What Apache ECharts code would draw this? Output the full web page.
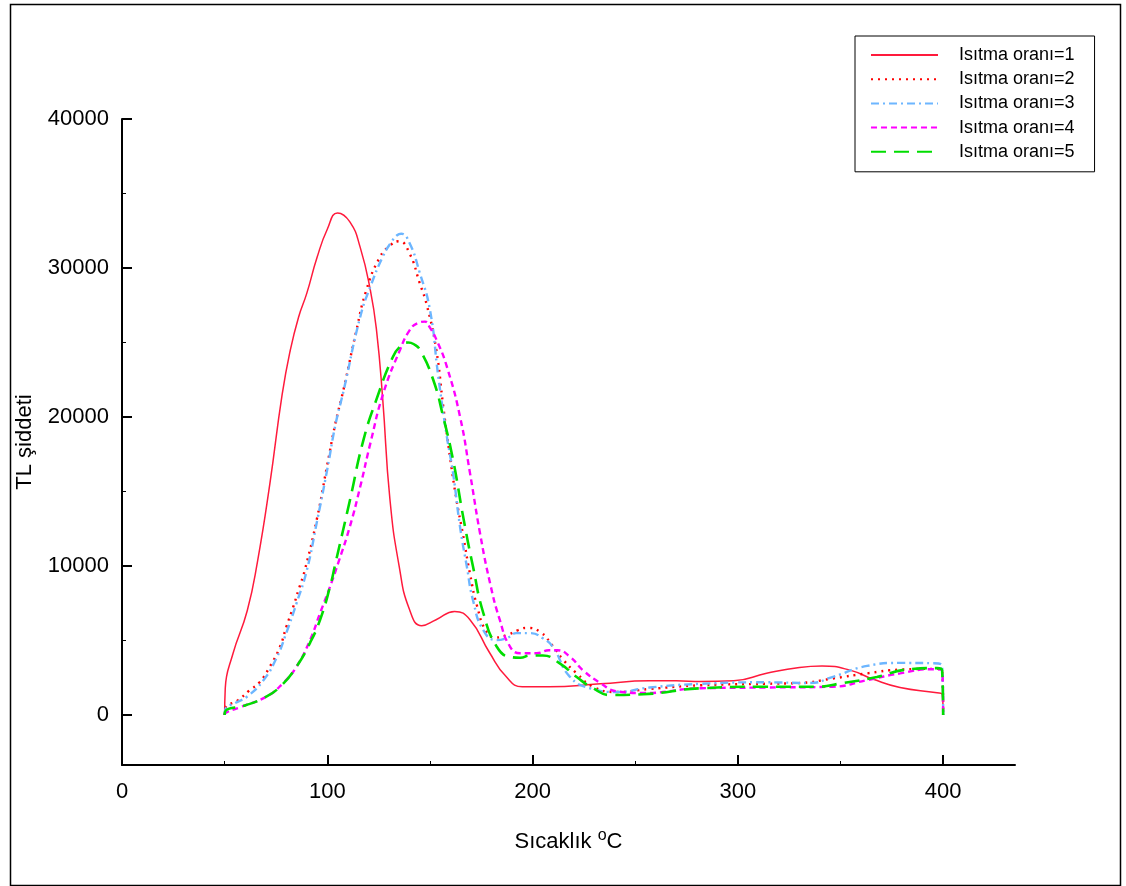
<!DOCTYPE html>
<html>
<head>
    <meta charset="utf-8">
    <title>TL</title>
    <script src="https://cdn.jsdelivr.net/npm/echarts@6/dist/echarts.min.js"></script>
    <style>
        html, body { margin: 0; padding: 0; background: #fff; }
        #main { width: 1126px; height: 886px; }
    </style>
</head>
<body>
    <div id="main"></div>
    <script>
        // [sicaklik, TL siddeti]
        var rate1 = [[50,0],[50.3,1800],[54,4100],[61,7000],[66,10300],[72,15500],[78,21500],[82,24500],[86,26700],[90,28300],[95,30700],[100,32600],[105,33700],[111,33100],[116,31400],[121,28500],[124,25800],[127,21200],[130.5,14500],[135,10000],[140,7100],[146,6000],[153,6400],[162,6950],[169.5,6400],[179,4200],[187,2600],[195,1900],[208,1900],[233,2100],[257,2300],[270,2300],[282,2250],[298,2300],[314,2800],[330,3200],[341,3300],[355,3000],[366,2400],[379,1850],[397,1500],[399.5,1400],[400,0]];
        var rate2 = [[50,0],[50.5,500],[56.5,1000],[62,1650],[67,2200],[72,3250],[77,4600],[80,5900],[83.5,7300],[86,8400],[89,9700],[95,13200],[100,16800],[104,19600],[108,21900],[114,25700],[119,28500],[125.5,30700],[130.5,31500],[135,31800],[140,31000],[145,29000],[148.5,27500],[153,24600],[156.5,20700],[160,17100],[163,14400],[166,12200],[169.5,9500],[173,7300],[177.5,5600],[182,5200],[188,5400],[193,5700],[197,5850],[203.5,5600],[210,4600],[215,3700],[221.5,2800],[229.5,1900],[241,1550],[257,1750],[282,2000],[314,2100],[330,2150],[346,2450],[363,2800],[379,3050],[397,3100],[399.5,3000],[400,0]];
        var rate3 = [[50,0],[50.5,450],[55,800],[61,1250],[69,2350],[75.5,3900],[80,5500],[85,7500],[90,9700],[95,13000],[100,16500],[104,19500],[108,21800],[116,26700],[121,28750],[127,30750],[131,31700],[134,32200],[136,32300],[140,31700],[145,29700],[150,27200],[154,22800],[158,18900],[161.3,16200],[164.7,12600],[168,9950],[171,7700],[176,5700],[182.5,5030],[188,5200],[192,5500],[199,5500],[205,5150],[210,4550],[218,2600],[228,1800],[241,1550],[257,1850],[282,2100],[314,2200],[335,2150],[346,2550],[363,3300],[379,3500],[395,3480],[399.5,3300],[400,0]];
        var rate4 = [[50,0],[50.5,150],[58,550],[70.5,1250],[78.5,2150],[85,3250],[91.5,5000],[96.5,6850],[101.3,8600],[105.3,10200],[111,12650],[116,15300],[121,18250],[127.3,21600],[135.4,24500],[140,25800],[144,26300],[147.6,26400],[150,26000],[153.3,25150],[158.2,23400],[164.7,20000],[169.5,16250],[174.4,12200],[179.3,8850],[184,6400],[189,4600],[194,4150],[202,4150],[208,4350],[212,4350],[218.3,3900],[224.6,3000],[233,2150],[241,1600],[254,1480],[282,1800],[314,1850],[346,1900],[363,2350],[379,2800],[395,3080],[399.5,3000],[400,0]];
        var rate5 = [[50,0],[50.5,300],[60,650],[69,1150],[77,1900],[85,3250],[91.6,4850],[96.5,6400],[101.3,8600],[104,10200],[111,14400],[117.5,18400],[124,21200],[132,24050],[136,24800],[139.4,25000],[142,24900],[145.2,24500],[151.6,22500],[156.5,20000],[161.3,17100],[166.2,13300],[171,9950],[176,6850],[182.5,4600],[189,3900],[194,3850],[198.8,4000],[205,4000],[213.4,3450],[221.5,2550],[229.5,1800],[237.8,1350],[254,1400],[282,1800],[314,1900],[338,1900],[351,2150],[367.7,2550],[382,3050],[397,3150],[399.5,3000],[400,0]];

        var names = ['Isıtma oranı=1', 'Isıtma oranı=2', 'Isıtma oranı=3', 'Isıtma oranı=4', 'Isıtma oranı=5'];
        var xTicks = [0, 100, 200, 300, 400];
        var xMinor = [50, 150, 250, 350];
        var yTicks = [0, 10000, 20000, 30000, 40000];
        var yMinor = [5000, 15000, 25000, 35000];

        var font = "'Liberation Sans', Arial, sans-serif";

        function line(name, data, color, width, type) {
            return {
                name: name,
                type: 'line',
                data: data,
                symbol: 'none',
                smooth: 0.5,
                lineStyle: { color: color, width: width, type: type, cap: 'butt' },
                itemStyle: { color: color }
            };
        }

        var option = {
            animation: false,
            backgroundColor: '#fff',
            textStyle: { fontFamily: font },
            graphic: [{
                type: 'rect',
                left: 8, top: 2,
                shape: { width: 1110, height: 881 },
                style: { fill: 'none', stroke: '#000', lineWidth: 1.5 },
                silent: true
            }],
            grid: { left: 122, top: 119, right: 111, bottom: 121, containLabel: false },
            legend: {
                data: names,
                orient: 'vertical',
                left: 855, top: 36,
                itemWidth: 67, itemHeight: 14, itemGap: 6.2,
                padding: [10, 20, 11, 15],
                borderColor: '#000', borderWidth: 1,
                backgroundColor: '#fff',
                itemStyle: { opacity: 0 },
                textStyle: { fontSize: 18, color: '#000', fontFamily: font, padding: [0, 0, 0, 16] }
            },
            xAxis: [{
                type: 'value', min: 0, max: 435,
                name: 'Sıcaklık {sup|o}C',
                nameLocation: 'middle', nameGap: 63,
                nameTextStyle: {
                    fontSize: 22, color: '#000', fontFamily: font,
                    rich: { sup: { fontSize: 16, verticalAlign: 'top', padding: [0, 0, 12, 0], fontFamily: font } }
                },
                axisLine: { onZero: false, lineStyle: { color: '#000', width: 2 } },
                axisTick: { inside: true, length: 10, customValues: xTicks, lineStyle: { color: '#000', width: 2 } },
                axisLabel: { customValues: xTicks, margin: 16, fontSize: 22, color: '#000', formatter: function (v) { return String(v); } },
                splitLine: { show: false }
            }, {
                type: 'value', min: 0, max: 435, position: 'bottom',
                axisLine: { show: false, onZero: false },
                axisTick: { inside: true, length: 4, customValues: xMinor, lineStyle: { color: '#000', width: 1 } },
                axisLabel: { show: false },
                splitLine: { show: false }
            }],
            yAxis: [{
                type: 'value', min: -3350, max: 40000,
                name: 'TL şiddeti',
                nameLocation: 'middle', nameGap: 86,
                nameTextStyle: { fontSize: 22, color: '#000', fontFamily: font },
                axisLine: { onZero: false, lineStyle: { color: '#000', width: 2 } },
                axisTick: { inside: true, length: 10, customValues: yTicks, lineStyle: { color: '#000', width: 2 } },
                axisLabel: { customValues: yTicks, margin: 13, fontSize: 22, color: '#000', formatter: function (v) { return String(v); } },
                splitLine: { show: false }
            }, {
                type: 'value', min: -3350, max: 40000, position: 'left',
                axisLine: { show: false, onZero: false },
                axisTick: { inside: true, length: 4, customValues: yMinor, lineStyle: { color: '#000', width: 1 } },
                axisLabel: { show: false },
                splitLine: { show: false }
            }],
            series: [
                line(names[0], rate1, '#ff1a3c', 1.5, 'solid'),
                line(names[1], rate2, '#ff0000', 2.4, [2, 5]),
                line(names[2], rate3, '#6db6ff', 2.4, [8, 4, 2, 4]),
                line(names[3], rate4, '#ff00ff', 2.4, [6, 4]),
                line(names[4], rate5, '#00dd00', 2.6, [15, 8])
            ]
        };

        var myChart = echarts.init(document.getElementById('main'));
        myChart.setOption(option, true);
    </script>
</body>
</html>
